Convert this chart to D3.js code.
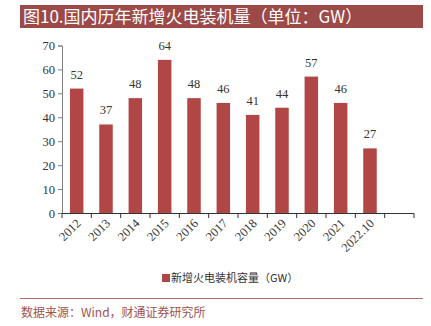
<!DOCTYPE html>
<html><head><meta charset="utf-8">
<script src="https://cdn.jsdelivr.net/npm/d3@7/dist/d3.min.js"></script>
<style>body{margin:0;background:#fff}svg{display:block}</style>
</head><body>
<script>
const categories = ["2012","2013","2014","2015","2016","2017","2018","2019","2020","2021","2022.10"];
const values = [52,37,48,64,48,46,41,44,57,46,27];
const yTicks = [0,10,20,30,40,50,60,70];
const slots = categories.concat([""]);

const W = 431, H = 326;
const svg = d3.select("body").append("svg").attr("width", W).attr("height", H);
const serif = "'Liberation Serif','Times New Roman',serif";
const cjk = "'Noto Sans CJK SC','Noto Sans',sans-serif";

// title bar
svg.append("rect").attr("x",20).attr("y",5).attr("width",403).attr("height",23).attr("fill","#9c4a47");
svg.append("text").attr("x",23).attr("y",23).attr("fill","#fff").attr("font-size",17)
  .attr("font-family",cjk).text("图10.国内历年新增火电装机量（单位：GW）");

const x = d3.scaleBand().domain(slots).range([62,414]).paddingInner(0.54).paddingOuter(0.27);
const y = d3.scaleLinear().domain([0,70]).range([213,45.5]);

// y axis
const ya = svg.append("g").attr("transform","translate(62,0)")
  .call(d3.axisLeft(y).tickValues(yTicks).tickSize(4).tickPadding(3));
ya.select(".domain").attr("stroke","#7f7f7f");
ya.selectAll(".tick line").attr("stroke","#7f7f7f");
ya.selectAll("text").attr("font-family",serif).attr("font-size",12.5).attr("fill","#333");

// bars
svg.append("g").selectAll("rect").data(values).join("rect")
  .attr("x",(d,i)=>x(categories[i])).attr("width",x.bandwidth())
  .attr("y",d=>y(d)).attr("height",d=>y(0)-y(d)).attr("fill","#b04645");
svg.append("g").selectAll("text").data(values).join("text")
  .attr("x",(d,i)=>x(categories[i])+x.bandwidth()/2).attr("y",d=>y(d)-10)
  .attr("text-anchor","middle").attr("font-family",serif).attr("font-size",12.5).attr("fill","#333")
  .text(d=>d);

// x axis with boundary ticks
const xg = svg.append("g");
xg.append("line").attr("x1",62).attr("x2",414).attr("y1",213.5).attr("y2",213.5).attr("stroke","#333");
const step = x.step();
xg.selectAll("line.t").data(d3.range(slots.length+1)).join("line").attr("class","t")
  .attr("x1",i=>62+i*step).attr("x2",i=>62+i*step).attr("y1",213.5).attr("y2",218).attr("stroke","#333");
xg.selectAll("text").data(categories).join("text")
  .attr("transform",(d,i)=>`translate(${x(d)+x.bandwidth()/2+5},${224}) rotate(-45)`)
  .attr("text-anchor","end").attr("font-family",serif).attr("font-size",12.5).attr("fill","#333")
  .text(d=>d);

// legend
svg.append("rect").attr("x",162).attr("y",274).attr("width",8).attr("height",8).attr("fill","#b04645");
svg.append("text").attr("x",171).attr("y",282).attr("font-family",cjk).attr("font-size",11).attr("fill","#333")
  .text("新增火电装机容量（GW）");

// footer
svg.append("line").attr("x1",20).attr("x2",423).attr("y1",298.5).attr("y2",298.5).attr("stroke","#b86a66").attr("stroke-width",1);
svg.append("text").attr("x",21).attr("y",317).attr("font-family",cjk).attr("font-size",12).attr("fill","#a0524f")
  .text("数据来源：Wind，财通证券研究所");
</script>
</body></html>
